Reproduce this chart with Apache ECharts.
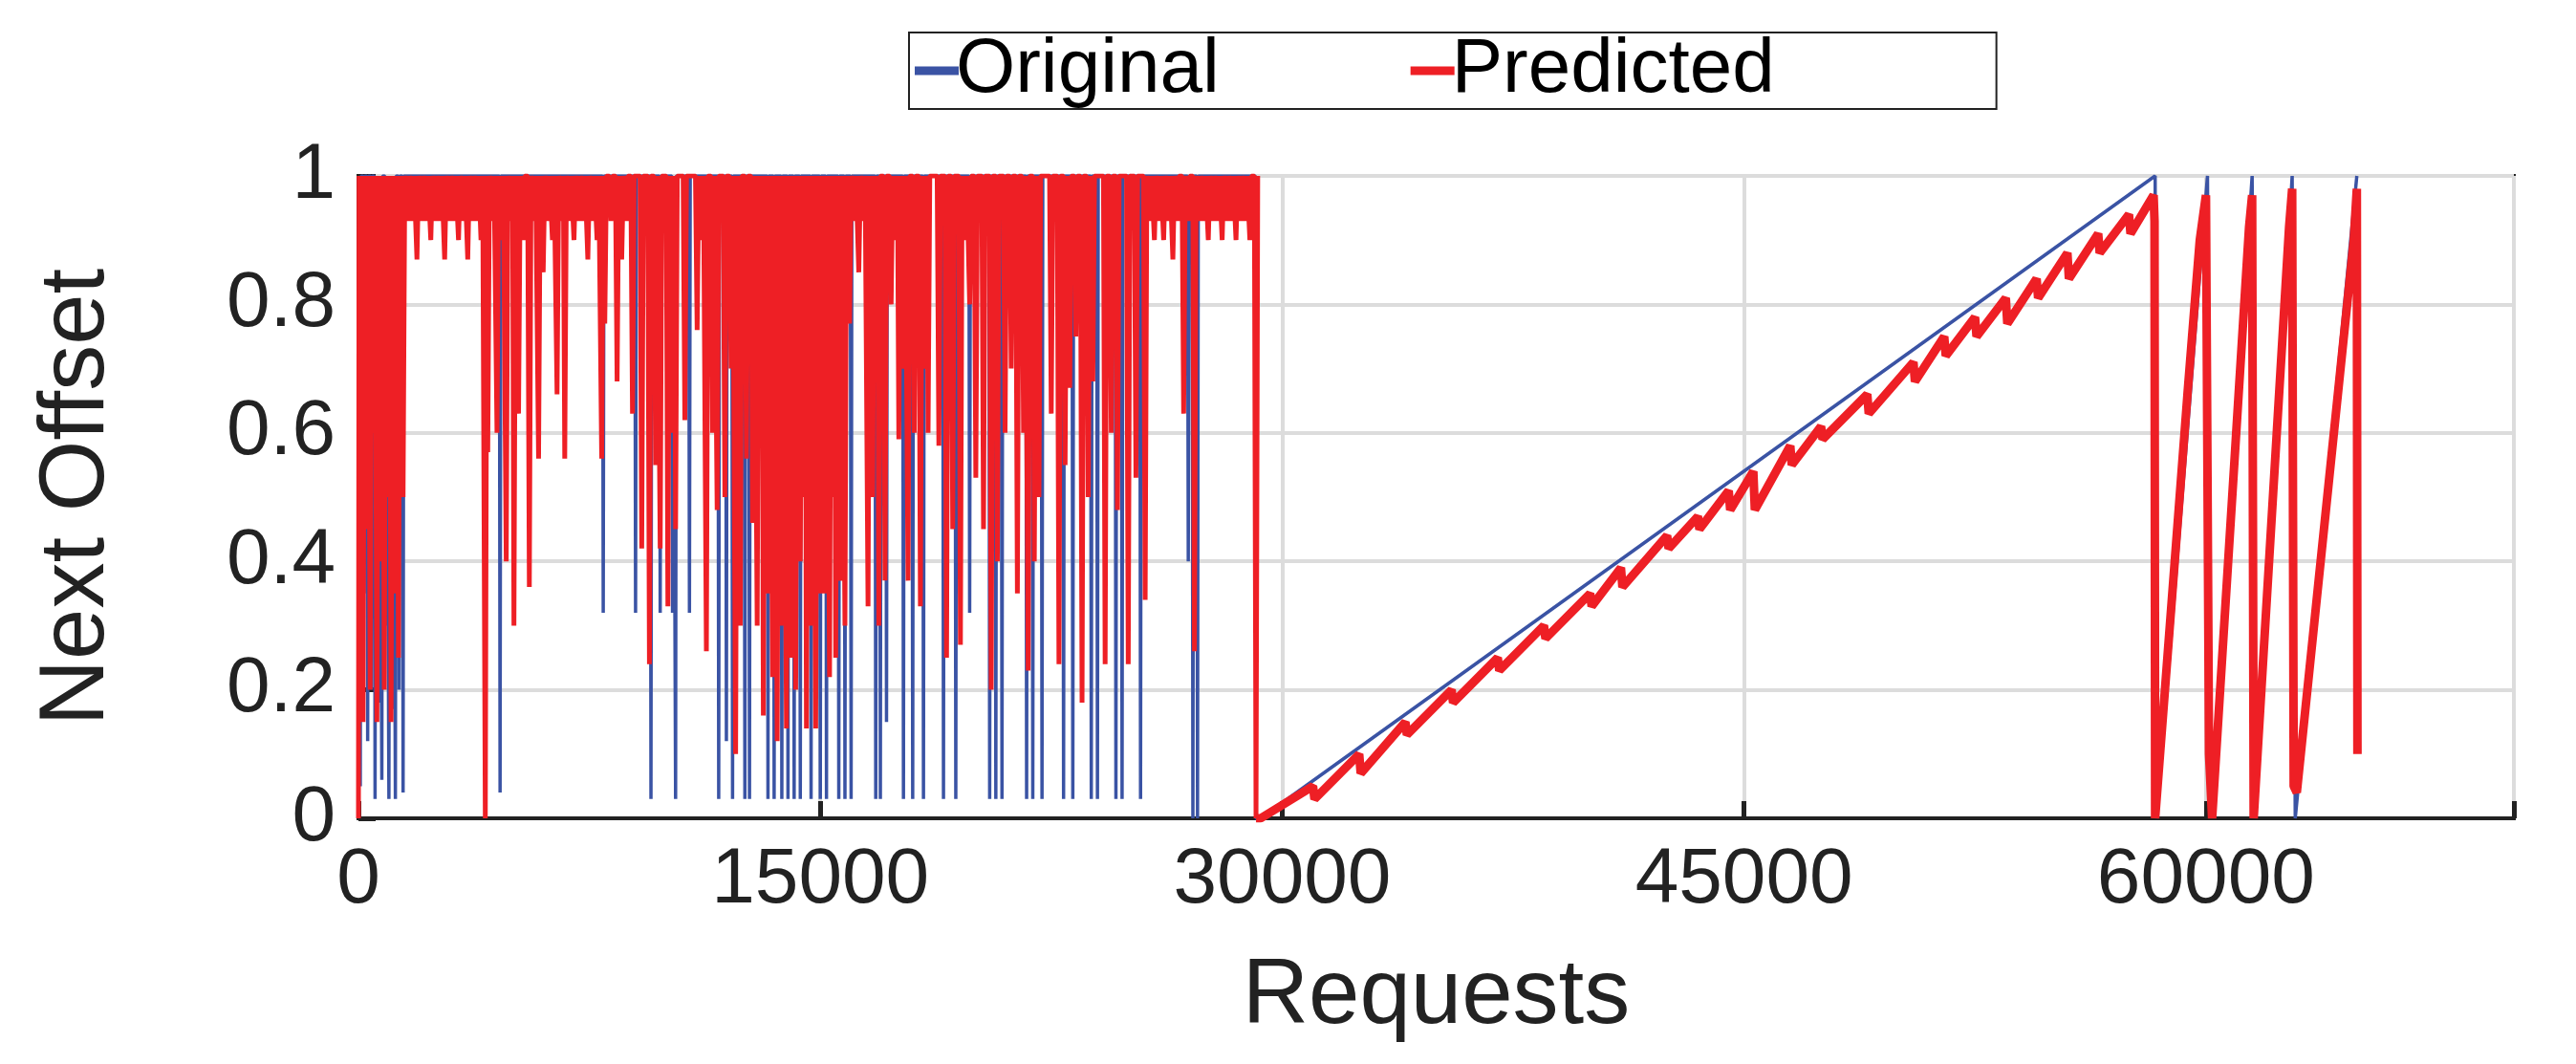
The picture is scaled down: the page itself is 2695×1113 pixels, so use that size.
<!DOCTYPE html>
<html>
<head>
<meta charset="utf-8">
<script src="https://cdn.jsdelivr.net/npm/echarts@6/dist/echarts.min.js"></script>
<style>html,body{margin:0;padding:0;background:#fff}#chart{width:2695px;height:1113px}</style>
</head>
<body>
<div id="chart"></div>
<script>
// tick labels
var xTicks = [0, 15000, 30000, 45000, 60000];
var yTicks = [0, 0.2, 0.4, 0.6, 0.8, 1];

// 0 - 29000: original dips [request, value]
var origDips = [
    [60, 0.05], [180, 0.35], [300, 0.12], [420, 0.2], [540, 0.03], [650, 0.18], [760, 0.06], [880, 0.3],
    [990, 0.03], [1100, 0.17], [1200, 0.03], [1320, 0.2], [1450, 0.04],
    [4600, 0.04], [7950, 0.32], [9000, 0.32], [9500, 0.03], [9800, 0.32], [10200, 0.32], [10300, 0.03],
    [10750, 0.32], [11700, 0.03], [11950, 0.12], [12150, 0.03], [12550, 0.03], [12700, 0.03],
    [13300, 0.03], [13500, 0.03], [13750, 0.03], [13950, 0.03], [14150, 0.03], [14350, 0.03],
    [14700, 0.03], [15000, 0.03], [15200, 0.03], [15600, 0.03], [15800, 0.03], [16000, 0.03],
    [16800, 0.03], [16950, 0.03], [17150, 0.15], [17700, 0.03], [18000, 0.03], [18350, 0.03],
    [19000, 0.03], [19400, 0.03], [19850, 0.32], [20500, 0.03], [20700, 0.03], [20900, 0.03],
    [21700, 0.03], [21900, 0.03], [22200, 0.03], [22900, 0.03], [23200, 0.03], [23800, 0.03],
    [24000, 0.03], [24600, 0.03], [24800, 0.03], [25400, 0.03], [26950, 0.4], [27100, 0],
    [27250, 0], [29150, 0]
];

// 0 - 29000: predicted deep dips [request, value]
var predDips = [
    [60, 0.3], [150, 0.15], [260, 0.45], [380, 0.2], [480, 0.6], [600, 0.15], [720, 0.4], [840, 0.2],
    [950, 0.5], [1060, 0.15], [1180, 0.35], [1300, 0.25], [1450, 0.5],
    [4120, 0], [4200, 0.57], [4500, 0.6], [4800, 0.4], [5050, 0.3], [5200, 0.63], [5550, 0.36],
    [5850, 0.56], [6450, 0.66], [6700, 0.56], [7900, 0.56],
    [8000, 0.77], [8400, 0.68], [8900, 0.63], [9200, 0.42], [9450, 0.24], [9650, 0.55],
    [9800, 0.42], [10050, 0.33], [10200, 0.6], [10300, 0.45], [10600, 0.62], [11000, 0.76],
    [11300, 0.26], [11500, 0.6], [11650, 0.48], [11900, 0.5], [12100, 0.7], [12250, 0.1], [12400, 0.3],
    [12600, 0.56], [12800, 0.46], [12950, 0.3], [13050, 0.6], [13150, 0.16], [13300, 0.35], [13450, 0.22],
    [13600, 0.12], [13750, 0.3], [13900, 0.14], [14050, 0.25], [14200, 0.2], [14350, 0.4], [14450, 0.5],
    [14550, 0.14], [14700, 0.3], [14850, 0.14], [15000, 0.35], [15150, 0.35], [15300, 0.22],
    [15400, 0.5], [15500, 0.25], [15650, 0.37], [15800, 0.3], [15950, 0.77], [16550, 0.33], [16700, 0.5],
    [16800, 0.7], [16900, 0.3], [17100, 0.37], [17550, 0.59], [17700, 0.7], [17850, 0.37], [18050, 0.6],
    [18250, 0.33], [18400, 0.7], [18500, 0.6], [18850, 0.58], [19100, 0.25], [19300, 0.45], [19550, 0.27],
    [20050, 0.53], [20300, 0.45], [20550, 0.2], [20750, 0.4], [21000, 0.6], [21200, 0.7], [21400, 0.35],
    [21600, 0.6], [21750, 0.23], [21950, 0.4], [22100, 0.5], [22500, 0.63], [22750, 0.24], [22950, 0.55],
    [23100, 0.67], [23300, 0.75], [23500, 0.18], [23700, 0.5], [23850, 0.68], [24250, 0.24], [24450, 0.6],
    [24650, 0.48], [25000, 0.24], [25250, 0.53], [25550, 0.34], [26800, 0.63], [27150, 0.26]
];

// 0 - 29000: predicted shallow dips near the top [request, value]
var predShallow = [
    [1600, 0.93], [1750, 0.93], [1900, 0.87], [2050, 0.93], [2200, 0.93], [2350, 0.9], [2500, 0.93],
    [2650, 0.93], [2800, 0.87], [2950, 0.93], [3100, 0.93], [3250, 0.9], [3400, 0.93], [3550, 0.87],
    [3700, 0.93], [3850, 0.93], [3980, 0.9], [4350, 0.93], [4650, 0.9], [4950, 0.93], [5350, 0.9],
    [5700, 0.93], [6000, 0.85], [6150, 0.93], [6300, 0.9], [6600, 0.93], [6850, 0.93], [7000, 0.9],
    [7150, 0.93], [7300, 0.93], [7450, 0.87], [7600, 0.93], [7750, 0.9], [8200, 0.93], [8550, 0.87],
    [8700, 0.93], [11150, 0.9], [16100, 0.93], [16250, 0.85], [16400, 0.93], [17300, 0.8],
    [17450, 0.9], [19700, 0.9], [19850, 0.8], [25700, 0.93], [25850, 0.9], [26000, 0.93],
    [26150, 0.9], [26300, 0.93], [26450, 0.87], [26600, 0.93], [26950, 0.93], [27300, 0.93],
    [27450, 0.93], [27600, 0.9], [27750, 0.93], [27900, 0.93], [28050, 0.9], [28200, 0.93],
    [28350, 0.93], [28500, 0.9], [28650, 0.93], [28800, 0.93], [28950, 0.9], [29150, 0]
];

// 29000 - 65000: original ramps [request, value]
var origRamp = [
    [29150, 0], [29300, 0], [58350, 1], [58400, 0], [60050, 1], [60150, 0], [61500, 1], [61600, 0],
    [62800, 1], [62900, 0], [64900, 1]
];

// 29000 - 65000: predicted ramps with sawtooth [request, value]
var predRamp = [
    [29150, 0], [29300, 0], [31000, 0.05], [31050, 0.03], [32500, 0.1], [32550, 0.07], [34000, 0.15],
    [34050, 0.13], [35500, 0.2], [35550, 0.18], [37000, 0.25], [37050, 0.23], [38500, 0.3], [38550, 0.28],
    [40000, 0.35], [40050, 0.33], [41000, 0.39], [41050, 0.36], [42500, 0.44], [42550, 0.42],
    [43500, 0.47], [43550, 0.45], [44500, 0.51], [44550, 0.48], [45300, 0.54], [45350, 0.48],
    [46500, 0.58], [46550, 0.55], [47500, 0.61], [47550, 0.59], [49000, 0.66], [49050, 0.63],
    [50500, 0.71], [50550, 0.68], [51500, 0.75], [51550, 0.72], [52500, 0.78], [52550, 0.75],
    [53500, 0.81], [53550, 0.77], [54500, 0.84], [54550, 0.81], [55500, 0.88], [55550, 0.84],
    [56500, 0.91], [56550, 0.88], [57500, 0.94], [57550, 0.91], [58300, 0.97], [58330, 0.93],
    [58350, 0], [59400, 0.66], [59800, 0.9], [60000, 0.97], [60100, 0.1], [60200, 0], [61400, 0.92],
    [61500, 0.97], [61550, 0], [62700, 0.92], [62800, 0.98], [62850, 0.05], [62950, 0.04],
    [64800, 0.9], [64900, 0.98], [64920, 0.1]
];

function buildSpikes(dips, top, half) {
    var out = [[0, 0], [20, top]];
    dips.slice().sort(function (a, b) { return a[0] - b[0]; }).forEach(function (d) {
        out.push([d[0] - half, top]);
        out.push([d[0], d[1]]);
        out.push([d[0] + half, top]);
    });
    return out;
}

var origData = buildSpikes(origDips, 1, 25).concat(origRamp);
var predData = buildSpikes(predDips.concat(predShallow), 1, 55);

var chart = echarts.init(document.getElementById("chart"));
var fontName = "'Liberation Sans', Arial, sans-serif";

var option = {
    animation: false,
    legend: {
        left: 951,
        top: 34,
        padding: [0, 232, 0, 6],
        itemGap: 200,
        itemWidth: 46,
        itemHeight: 9,
        borderColor: "#222",
        borderWidth: 2,
        icon: "rect",
        textStyle: { fontFamily: fontName, fontSize: 80, color: "#000", padding: [0, 0, 0, -8] },
        data: ["Original", "Predicted"]
    },
    grid: {
        left: 375,
        right: 65,
        top: 184,
        bottom: 257,
        show: true,
        borderColor: "#222",
        borderWidth: 4
    },
    xAxis: {
        type: "value",
        min: 0,
        max: 70000,
        interval: 15000,
        name: "Requests",
        nameLocation: "middle",
        nameGap: 140,
        nameTextStyle: { fontFamily: fontName, fontSize: 96, color: "#222" },
        axisLine: { lineStyle: { color: "#222", width: 4 } },
        axisTick: { inside: true, length: 18, lineStyle: { color: "#222", width: 5 } },
        splitLine: { show: true, lineStyle: { color: "#dcdcdc", width: 4 } },
        axisLabel: {
            fontFamily: fontName, fontSize: 82, color: "#222", margin: 24,
            formatter: function (v) { return xTicks.indexOf(v) >= 0 ? String(v) : ""; }
        }
    },
    yAxis: {
        type: "value",
        min: 0,
        max: 1,
        interval: 0.2,
        name: "Next Offset",
        nameLocation: "middle",
        nameGap: 245,
        nameTextStyle: { fontFamily: fontName, fontSize: 96, color: "#222" },
        axisLine: { lineStyle: { color: "#222", width: 4 } },
        axisTick: { inside: true, length: 18, lineStyle: { color: "#222", width: 5 } },
        splitLine: { show: true, lineStyle: { color: "#dcdcdc", width: 4 } },
        axisLabel: {
            fontFamily: fontName, fontSize: 82, color: "#222", margin: 24,
            formatter: function (v) {
                var r = Math.round(v * 10) / 10;
                return yTicks.indexOf(r) >= 0 ? String(r) : "";
            }
        }
    },
    series: [
        {
            name: "Original",
            type: "line",
            data: origData,
            showSymbol: false,
            color: "#3a53a4",
            lineStyle: { width: 3.5, color: "#3a53a4" }
        },
        {
            name: "Predicted",
            type: "line",
            data: predData,
            showSymbol: false,
            color: "#ee1f25",
            lineStyle: { width: 5, color: "#ee1f25" }
        },
        {
            name: "Predicted",
            type: "line",
            data: predRamp,
            showSymbol: false,
            color: "#ee1f25",
            lineStyle: { width: 9, color: "#ee1f25" }
        }
    ]
};
chart.setOption(option);

window.addEventListener("resize", function () {
    chart.resize();
});
</script>
</body>
</html>
